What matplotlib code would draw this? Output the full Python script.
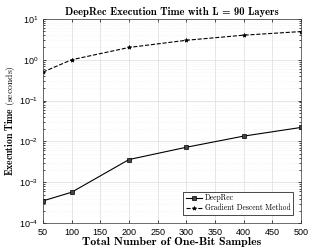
import matplotlib.pyplot as plt
import numpy as np

# samples and timings
n_samples = [50, 100, 200, 300, 400, 500]
deeprec_time = [3.5e-4, 5.7e-4, 3.6e-3, 7.2e-3, 0.0135, 0.022]
gd_time = [0.5, 1.0, 2.0, 3.0, 4.0, 4.9]

plt.rcParams['mathtext.fontset'] = 'cm'

fig = plt.figure(figsize=(3.33, 2.49), dpi=100)
ax = fig.add_axes([0.129, 0.104, 0.775, 0.82])

ax.semilogy(n_samples, deeprec_time, '-', color='k', lw=0.8, marker='s', ms=2.5,
            mfc='#444444', mec='k', mew=0.5, label='DeepRec')
ax.semilogy(n_samples, gd_time, '--', color='k', lw=0.8, marker='*', ms=3,
            mec='k', mew=0.5, label='Gradient Descent Method')

ax.set_xlim(50, 500)
ax.set_ylim(1e-4, 10)
ax.set_xticks(np.arange(50, 501, 50))
ax.grid(True, which='major', color='#dcdcdc', lw=0.5)
ax.grid(True, which='minor', color='#ececec', lw=0.4, ls=':')
ax.tick_params(which='both', direction='in', top=True, right=True, labelsize=6.5,
               length=2, width=0.5)
ax.tick_params(which='minor', length=1.2)
for s in ax.spines.values():
    s.set_linewidth(0.5)
    s.set_color('#333333')
for lab in ax.get_xticklabels() + ax.get_yticklabels():
    lab.set_family('Liberation Sans')

ax.set_title('DeepRec Execution Time with L = 90 Layers', family='cmb10', fontsize=7.7, pad=3)
ax.set_xlabel('Total Number of One-Bit Samples', family='cmb10', fontsize=8.5, labelpad=0)
ax.set_ylabel(r'$\mathbf{Execution\ Time}\ \mathrm{(seconds)}$', fontsize=7, labelpad=1)

leg = ax.legend(loc='lower right', prop={'family': 'cmr10', 'size': 5.5}, fancybox=False,
                edgecolor='k', framealpha=1, handlelength=2.2, borderpad=0.3,
                labelspacing=0.2, handletextpad=0.3, borderaxespad=1.1)
leg.get_frame().set_linewidth(0.5)

fig.savefig('out.png', dpi=100)
